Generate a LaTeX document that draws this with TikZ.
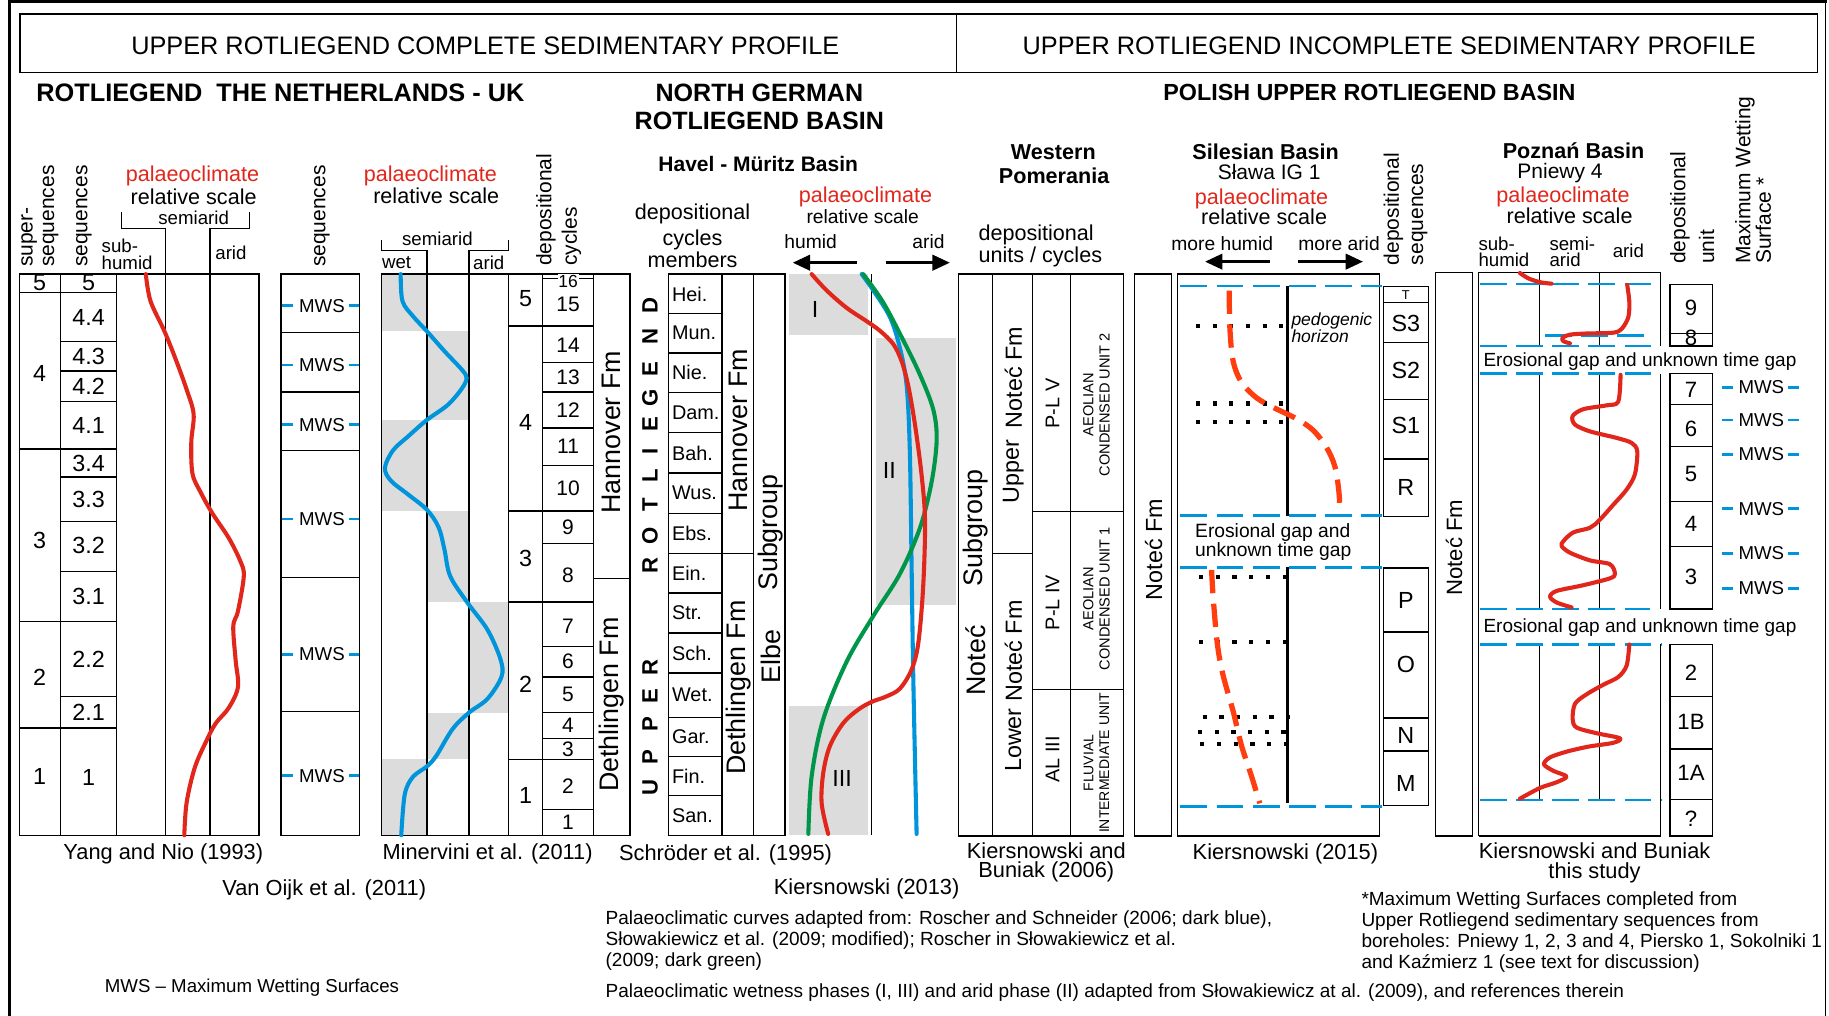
\documentclass[tikz,border=0pt]{standalone}
\usepackage{fontspec}
\setmainfont{Liberation Sans}
\usetikzlibrary{arrows.meta}
\definecolor{cred}{HTML}{E1261C}
\definecolor{cblue}{HTML}{0095DA}
\definecolor{cgreen}{HTML}{00964A}
\definecolor{cgray}{HTML}{DCDCDC}
\definecolor{corange}{HTML}{FF3D0F}
\newcommand{\fsz}[1]{\fontsize{#1}{#1}\selectfont}
\tikzset{
  bx/.style={line width=1.1},
  txt/.style={inner sep=0, font=\fsz{#1}},
  btxt/.style={inner sep=0, font=\fsz{#1}\bfseries},
  rtxt/.style={inner sep=0, font=\fsz{#1}, text=cred},
  bdash/.style={cblue, line width=2.2, dash pattern=on 23 off 8},
  curve/.style={line width=3.5, line cap=round, line join=round},
  dots/.style={line width=3.6, dash pattern=on 3.6 off 10.7},
  bigarrow/.style={line width=3, -{Triangle[length=15,width=13]}},
  tick/.style={cblue, line width=2.2},
}
\begin{document}
\begin{tikzpicture}[x=1pt,y=-1pt]
\useasboundingbox (0,0) rectangle (1568,871);
\fill[white] (0,0) rectangle (1568,871);
% frame
\draw[line width=2.4] (8,871) -- (8,1.2) -- (1566,1.2);
\draw[line width=0.8] (1565,1) -- (1565,871);
% header
\draw[line width=1.4] (17,12) rectangle (1558,62);
\draw[line width=0.8] (820,12) -- (820,62);
\node[txt=21.7] (h1) at (416,39) {UPPER ROTLIEGEND COMPLETE SEDIMENTARY PROFILE};
\node[txt=21.7] (h2) at (1191,39) {UPPER ROTLIEGEND INCOMPLETE SEDIMENTARY PROFILE};
% section titles
\node[btxt=21.7, anchor=west] (s1) at (31,79.7) {ROTLIEGEND\ \ THE NETHERLANDS - UK};
\node[btxt=21.5] (s2a) at (651,79.2) {NORTH GERMAN};
\node[btxt=21.5] (s2b) at (651,103.7) {ROTLIEGEND BASIN};
\node[btxt=18] (s2c) at (650,140.6) {Havel - Müritz Basin};
\node[btxt=20] (s3) at (1174,79.5) {POLISH UPPER ROTLIEGEND BASIN};

% ================= Yang and Nio =================
\node[txt=18, rotate=90, anchor=west] (y1) at (25,229) {super-};
\node[txt=18, rotate=90, anchor=west] (y2) at (43.5,229) {sequences};
\node[txt=18, rotate=90, anchor=west] (y3) at (72,229) {sequences};
\node[txt=16, anchor=west] (y4) at (87,211) {sub-};
\node[txt=16, anchor=west] (y5) at (87,225) {humid};
\node[rtxt=18.5] (y6) at (165,150.7) {palaeoclimate};
\node[txt=18.5] (y7) at (166,168.5) {relative scale};
\node[txt=16] (y8) at (166,187) {semiarid};
\node[txt=16] (y9) at (198,217) {arid};
\draw[bx] (104,182) -- (104,196) -- (142,196) -- (142,235);
\draw[bx] (214,182) -- (214,196) -- (180,196) -- (180,235);
\draw[bx] (17,235) rectangle (222,716);
\foreach \x in {52,100,142,180} \draw[bx] (\x,235) -- (\x,716);
\foreach \y in {250.5,385,533,624} \draw[bx] (17,\y) -- (52,\y);
\foreach \y in {250.5,292.5,318,344,385,409,447,490,533,597,624} \draw[bx] (52,\y) -- (100,\y);
\node[txt=20] (ya1) at (34,242.5) {5};
\node[txt=20] (ya2) at (34,320) {4};
\node[txt=20] (ya3) at (34,463) {3};
\node[txt=20] (ya4) at (34,581) {2};
\node[txt=20] (ya5) at (34,666) {1};
\node[txt=20] (yb1) at (76,242.5) {5};
\node[txt=20] (yb2) at (76,272) {4.4};
\node[txt=20] (yb3) at (76,306) {4.3};
\node[txt=20] (yb4) at (76,331) {4.2};
\node[txt=20] (yb5) at (76,365) {4.1};
\node[txt=20] (yb6) at (76,397.5) {3.4};
\node[txt=20] (yb7) at (76,428) {3.3};
\node[txt=20] (yb8) at (76,468) {3.2};
\node[txt=20] (yb9) at (76,511) {3.1};
\node[txt=20] (yb10) at (76,565.5) {2.2};
\node[txt=20] (yb11) at (76,611) {2.1};
\node[txt=20] (yb12) at (76,666.5) {1};
\draw[cred, curve] plot[smooth, tension=0.55] coordinates {(125,235) (129,258) (141,284) (151,309) (160,334) (166,355) (164,379) (165,406) (172,422) (182,440) (196,461) (206,481) (209,494) (204,524) (200,537) (202,566) (204,589) (196,607) (185,620) (177,635) (167,658) (160,688) (158,716)};

% ================= Van Oijk sequences =================
\node[txt=18, rotate=90, anchor=west] (v1) at (276,229) {sequences};
\draw[bx] (241,235) rectangle (308,716);
\foreach \y in {285,336,386,495,610} \draw[bx] (241,\y) -- (308,\y);
\foreach \y/\n in {262/a,313/b,364/c,445/d,561/e,665/f} {
  \draw[tick] (242,\y) -- (251,\y);
  \draw[tick] (299,\y) -- (308,\y);
  \node[txt=16] (mws\n) at (276,\y) {MWS};
}

% ================= Minervini =================
\fill[cgray] (327,235) rectangle (366,284);
\fill[cgray] (366,284) rectangle (402,360);
\fill[cgray] (327,360) rectangle (366,438);
\fill[cgray] (366,438) rectangle (402,516);
\fill[cgray] (402,516) rectangle (436,611);
\fill[cgray] (366,611) rectangle (402,651);
\fill[cgray] (327,651) rectangle (366,716);
\node[rtxt=18.5] (m1) at (369,150.7) {palaeoclimate};
\node[txt=18.5] (m2) at (374,168) {relative scale};
\node[txt=16] (m3) at (375,204.5) {semiarid};
\node[txt=16] (m4) at (340,225) {wet};
\node[txt=16] (m5) at (419,225.5) {arid};
\draw[bx] (327,206) -- (327,214.5) -- (366,214.5) -- (366,235);
\draw[bx] (436,206) -- (436,214.5) -- (402,214.5) -- (402,235);
\node[txt=18, rotate=90, anchor=west] (m6) at (468,228) {depositional};
\node[txt=18, rotate=90, anchor=west] (m7) at (490,228) {cycles};
\draw[bx] (327,235) rectangle (509,716);
\foreach \x in {366,402,436,465} \draw[bx] (\x,235) -- (\x,716);
\foreach \y in {279.4,438,516,651} \draw[bx] (436,\y) -- (465,\y);
\foreach \y in {279.4,310.6,336,367,399,438,466,516,554,580.5,611,633,651,694} \draw[bx] (465,\y) -- (509,\y);
\draw[bx] (465,239) -- (509,239);
\node[txt=15, fill=white, inner sep=0.6] (c16) at (487,241) {16};
\node[txt=20] (g5) at (450.5,256) {5};
\node[txt=20] (g4) at (450.5,362.5) {4};
\node[txt=20] (g3) at (450.5,478.5) {3};
\node[txt=20] (g2) at (450.5,586.5) {2};
\node[txt=20] (g1) at (450.5,682) {1};
\foreach \y/\n in {260.7/15,296/14,323.7/13,352/12,383/11,418.5/10,452/9,493/8,537/7,567/6,595.5/5,622/4,642.5/3,674/2,705/1}
  \node[txt=18] (cy\n) at (487,\y) {\n};
\draw[cblue, curve] plot[smooth, tension=0.55] coordinates {(343.5,235) (345,258) (354,271) (366,284) (381,301) (396,317) (400,324) (396,333) (384,347) (366,360) (350,374) (337,386) (330,401) (335,412) (350,424) (366,437) (376,452) (381,471) (386,494) (401,517) (418,540) (429,565) (430,580) (418,599) (402,611) (388,625) (374,648) (366,657) (354,666) (347,681) (344,716)};

% formation column
\draw[bx] (509,235) rectangle (540,716);
\draw[bx] (509,496) -- (540,496);
\node[txt=23, rotate=90] (f1) at (524.5,370.5) {Hannover Fm};
\node[txt=23, rotate=90] (f2) at (524.5,604) {Dethlingen Fm};

% ================= Schroder =================
\node[txt=18.5] (n1) at (593.7,183.5) {depositional};
\node[txt=18.5] (n2) at (593.7,205.7) {cycles};
\node[txt=18.5] (n3) at (593.7,222.5) {members};
\foreach \y/\l/\n in {262/D/a,288.5/N/b,316/E/c,341/G/d,364/E/e,387/I/f,408/L/g,433/T/h,459/O/i,485/R/j,572/R/k,597/E/l,621/P/m,649/P/o,675.5/U/p}
  \node[btxt=19, rotate=90] (L\n) at (557.3,\y) {\l};
\draw[bx] (573,235) rectangle (619,716);
\foreach \y in {268.8,302.6,336.7,371,405.6,440,474.5,508.3,542.7,577,615,648.7,682} \draw[bx] (573,\y) -- (619,\y);
\foreach \y/\t/\n in {252/Hei./a,285.7/Mun./b,319.6/Nie./c,353.8/Dam./d,388.3/Bah./e,422.8/Wus./f,457.2/Ebs./g,491.4/Ein./h,525.5/Str./i,559.8/Sch./j,596/Wet./k,631.8/Gar./l,665.3/Fin./m,699/San./o}
  \node[txt=17, anchor=west] (mem\n) at (576,\y) {\t};
\draw[bx] (619,235) rectangle (646,716);
\draw[bx] (619,474.5) -- (646,474.5);
\node[txt=23, rotate=90] (f3) at (633,369) {Hannover Fm};
\node[txt=23, rotate=90] (f4) at (633,589.5) {Dethlingen Fm};
\draw[bx] (646,235) rectangle (673,716);
\node[txt=23, rotate=90] (f5) at (660.7,456.6) {Subgroup};
\node[txt=23, rotate=90] (f6) at (660.7,563) {Elbe};

% ================= Kiersnowski 2013 =================
\node[rtxt=18.5] (k1) at (742,168.6) {palaeoclimate};
\node[txt=16.5] (k2) at (739.6,185.7) {relative scale};
\node[txt=16.5] (k3) at (695,207.2) {humid};
\node[txt=16.5] (k4) at (796,207) {arid};
\coordinate (ka1) at (734.4,225.2); \coordinate (ka2) at (679.5,225.2);
\coordinate (ka3) at (759.5,225.2); \coordinate (ka4) at (814.4,225.2);
\draw[bigarrow] (ka1) -- (ka2);
\draw[bigarrow] (ka3) -- (ka4);
\fill[cgray] (676,235) rectangle (744.4,287);
\fill[cgray] (751,290) rectangle (819.5,519);
\fill[cgray] (676,605) rectangle (744.4,716);
\draw[line width=1.4] (747,235) -- (747,716);
\node[txt=20] (p1) at (698.7,265.5) {I};
\node[txt=20] (p2) at (762.4,403) {II};
\node[txt=20] (p3) at (722,667.3) {III};
\draw[cblue, curve] plot[smooth, tension=0.55] coordinates {(738.7,235) (748.7,249) (763,272) (771.5,298.3) (777.3,331) (780,387) (781.5,485) (783,583.7) (785.8,714.9)};
\draw[cgreen, curve] plot[smooth, tension=0.55] coordinates {(740,235) (757,259) (774.4,291.8) (788.7,321.3) (800,350.8) (803,377) (798.7,413) (788.7,452.5) (771.5,491.9) (748.7,528) (725.8,567.3) (705.8,616.5) (695.8,665.7) (693,714.9)};
\draw[cred, curve] plot[smooth, tension=0.55] coordinates {(695.8,235) (708.7,249) (725.8,263.9) (743,275.4) (754.4,283.6) (765.8,295) (773,309.8) (778.7,331) (784.4,364) (790,406.6) (793,446) (791.5,501.7) (787.3,551) (781.5,574) (771.5,590.3) (760,597) (747.3,601.7) (735.8,608.3) (723,619.8) (711.5,639.5) (705.8,662.4) (704.4,688.7) (710,714.9)};

% ================= Western Pomerania =================
\node[btxt=18.5] (w1) at (903,130.6) {Western};
\node[btxt=18.5] (w2) at (903.7,150.9) {Pomerania};
\node[txt=18.5, anchor=west] (w3) at (838.7,201.5) {depositional};
\node[txt=18.5, anchor=west] (w4) at (838.7,220) {units / cycles};
\draw[bx] (822,235) rectangle (963,716.6);
\foreach \x in {851,885,918} \draw[bx] (\x,235) -- (\x,716.6);
\draw[bx] (851,474.8) -- (885,474.8);
\draw[bx] (885,438.7) -- (963,438.7);
\draw[bx] (885,590.9) -- (963,590.9);
\node[txt=23, rotate=90] (w5) at (836.7,452.5) {Subgroup};
\node[txt=23, rotate=90] (w6) at (836.7,566.3) {Noteć};
\node[txt=20, rotate=90] (w7) at (868.7,404) {Upper};
\node[txt=20, rotate=90] (w8) at (868.7,323.6) {Noteć Fm};
\node[txt=20, rotate=90] (w9) at (868.7,634.5) {Lower};
\node[txt=20, rotate=90] (w10) at (868.7,558) {Noteć Fm};
\node[txt=17, rotate=90] (w11) at (902.4,345.9) {P-L V};
\node[txt=17, rotate=90] (w12) at (902.4,516.5) {P-L IV};
\node[txt=17, rotate=90] (w13) at (902.4,651) {AL III};
\node[txt=12.5, rotate=90, align=center] (w14) at (940,346.9) {AEOLIAN\\[1.5pt]CONDENSED UNIT 2};
\node[txt=12.5, rotate=90, align=center] (w15) at (940,513.2) {AEOLIAN\\[1.5pt]CONDENSED UNIT 1};
\node[txt=12, rotate=90, align=center] (w16) at (940,654.2) {FLUVIAL\\[1.5pt]INTERMEDIATE UNIT};

% ================= Silesian =================
\node[btxt=18.5] (sl1) at (1085,130) {Silesian Basin};
\node[txt=18] (sl2) at (1088,147.2) {Sława IG 1};
\node[rtxt=18.5] (sl3) at (1081.5,170.6) {palaeoclimate};
\node[txt=18.5] (sl4) at (1083.7,185.8) {relative scale};
\node[txt=16.5] (sl5) at (1047.8,208.6) {more humid};
\node[txt=16.5] (sl6) at (1148,208.6) {more arid};
\coordinate (sa1) at (1088.7,224.3); \coordinate (sa2) at (1033,224.3);
\coordinate (sa3) at (1113,224.3); \coordinate (sa4) at (1168.6,224.3);
\draw[bigarrow] (sa1) -- (sa2);
\draw[bigarrow] (sa3) -- (sa4);
\draw[bx] (972.4,235) rectangle (1004.4,716.6);
\node[txt=20, rotate=90] (sl7) at (989,471.2) {Noteć Fm};
\draw[bx] (1009.5,235) rectangle (1182.4,716.6);
\draw[line width=2.6] (1103.8,245.2) -- (1103.8,442);
\draw[line width=2.6] (1103.8,486.3) -- (1103.8,688.7);
\foreach \y/\a in {279.6/1025.2,345.9/1025.2,361.6/1025.2,494.5/1028,550.2/1028,614.9/1031,627.3/1027,638.1/1029}
  \draw[dots] (\a,\y) -- (\a+76,\y);
\draw[corange, line width=4.5, dash pattern=on 20 off 9] plot[smooth, tension=0.55] coordinates {(1053.8,249.1) (1054.4,281.9) (1057.2,309.8) (1064.4,327.9) (1077.2,341) (1091.5,349.2) (1111.5,359) (1125.8,368.9) (1137.2,383.6) (1144.4,400) (1147.8,421.3) (1148.7,439.4)};
\draw[corange, line width=4.5, dash pattern=on 20 off 9] plot[smooth, tension=0.55] coordinates {(1038.7,488.6) (1040,511.5) (1043.5,550.9) (1048.1,577.1) (1057.2,609.9) (1064.4,639.4) (1073,665.7) (1080,688.7)};
\foreach \y in {245.2,442,486.3,691.3} \draw[bdash] (1012,\y) -- (1185,\y);
\node[anchor=west, inner sep=0, align=left, font=\fontsize{15}{14.8}\selectfont\itshape] (sl8) at (1107,281) {pedogenic\\horizon};
\node[anchor=west, inner sep=0, align=left, font=\fontsize{16.5}{14.6}\selectfont] (sl10) at (1024.4,464.7) {Erosional gap and\\unknown time gap};
% sequences column
\node[txt=18, rotate=90, anchor=west] (sq1) at (1194.5,227.5) {depositional};
\node[txt=18, rotate=90, anchor=west] (sq2) at (1217,227.5) {sequences};
\draw[bx] (1186,245.9) rectangle (1224.5,442.7);
\foreach \y in {259.6,293.4,342.6,393.5} \draw[bx] (1186,\y) -- (1224.5,\y);
\draw[bx] (1186,487) rectangle (1224.5,690.3);
\foreach \y in {541.7,615.5,643.7} \draw[bx] (1186,\y) -- (1224.5,\y);
\node[txt=11] (q0) at (1205.2,253) {T};
\foreach \y/\t/\n in {277/S3/a,318/S2/b,364.6/S1/c,418/R/d,515/P/e,569.5/O/f,630.6/N/g,671.6/M/h}
  \node[txt=20] (sq\n) at (1205.2,\y) {\t};

% ================= Poznan =================
\node[btxt=18.5] (pz1) at (1349,129.2) {Poznań Basin};
\node[txt=18] (pz2) at (1337.4,148.6) {Pniewy 4};
\node[rtxt=18.5] (pz3) at (1340,169.2) {palaeoclimate};
\node[txt=18.5] (pz4) at (1345.6,185.2) {relative scale};
\node[txt=16, anchor=west] (pz5) at (1267.3,209.2) {sub-};
\node[txt=16, anchor=west] (pz6) at (1267.3,222.9) {humid};
\node[txt=16, anchor=west] (pz7) at (1328.2,209.2) {semi-};
\node[txt=16, anchor=west] (pz8) at (1328.2,222.9) {arid};
\node[txt=16] (pz9) at (1396,214.9) {arid};
\node[txt=18, rotate=90, anchor=west] (pz10) at (1440.2,226.5) {depositional};
\node[txt=18, rotate=90, anchor=west] (pz11) at (1463,226.5) {unit};
\node[txt=18, rotate=90, anchor=west] (pz12) at (1496,226.5) {Maximum Wetting};
\node[txt=18, rotate=90, anchor=west] (pz13) at (1511.7,226.5) {Surface *};
\draw[bx] (1230.8,233.7) rectangle (1262.2,716.6);
\node[txt=19, rotate=90] (pz14) at (1246.5,469.6) {Noteć Fm};
\draw[bx] (1267.6,716.6) -- (1267.6,233.7) -- (1423.6,233.7) -- (1423.6,296.7);
\draw[bx] (1423.6,320.3) -- (1423.6,522);
\draw[bx] (1423.6,552.5) -- (1423.6,716.6) -- (1267.6,716.6);
\foreach \x in {1319.6,1371} {
  \draw[bx] (\x,233.7) -- (\x,296.7);
  \draw[bx] (\x,320.3) -- (\x,522);
  \draw[bx] (\x,552.5) -- (\x,686);
}
\draw[bdash] (1268.8,243.6) -- (1423.6,243.6);
\draw[bdash] (1324.5,287.5) -- (1410.2,287.5);
\draw[bdash] (1268.8,296.7) -- (1423.6,296.7);
\draw[bdash] (1268.8,320.3) -- (1423.6,320.3);
\draw[bdash] (1268.8,522) -- (1414.5,522);
\draw[bdash] (1268.8,552.5) -- (1424.5,552.5);
\draw[bdash] (1268.8,686) -- (1424.5,686);
\node[txt=16.3, anchor=west] (pz15) at (1271.6,309.8) {Erosional gap and unknown time gap};
\node[txt=16.3, anchor=west] (pz16) at (1271.6,537.8) {Erosional gap and unknown time gap};
\draw[cred, curve] plot[smooth, tension=0.55] coordinates {(1303,234) (1310.2,238.6) (1320.2,241.9) (1330.2,243.2)};
\draw[cred, curve] plot[smooth, tension=0.5] coordinates {(1395,244.2) (1396.8,259) (1395.9,272.1) (1390.2,282) (1383,285.2) (1360.2,285.9) (1345.9,286.9) (1339.6,289.5) (1340.2,292.4) (1345.9,294.4)};
\draw[cred, curve] plot[smooth, tension=0.5] coordinates {(1389.3,321.3) (1387.3,344.3) (1377.3,347.5) (1357.3,350.8) (1348.2,356.7) (1350.2,364) (1363,369.8) (1385.9,375.4) (1398.8,379.7) (1403.6,386.9) (1401.6,406.6) (1394.5,419.7) (1383,432.8) (1371.1,446) (1363,452.5) (1348.8,456.4) (1340.2,464) (1338.8,468.2) (1345.9,473.8) (1363,480.4) (1380.2,483.7) (1384.5,491.9) (1380.2,495.8) (1357.3,501.7) (1334.5,506.6) (1328.8,511.5) (1334.5,516.5) (1347.3,520.7)};
\draw[cred, curve] plot[smooth, tension=0.5] coordinates {(1396.8,552.5) (1394.5,570.6) (1387.3,580.4) (1374.5,587) (1360.2,595.2) (1350.2,603.4) (1348.2,616.5) (1351.6,623.7) (1368.8,628.6) (1388.8,632.9) (1383,636.8) (1361.6,640.1) (1343,644.4) (1328.8,649.3) (1323.6,655.2) (1331.6,660.8) (1343,665.7) (1334.5,670.6) (1320.2,675.5) (1303,684.7)};
% depositional unit column
\draw[bx] (1431.6,243.6) rectangle (1467.9,296.7);
\draw[bx] (1431.6,286.2) -- (1467.9,286.2);
\draw[bx] (1431.6,320.3) rectangle (1467.9,522);
\foreach \y in {346.9,383,430.2,468.2} \draw[bx] (1431.6,\y) -- (1467.9,\y);
\draw[bx] (1431.6,552.5) rectangle (1467.9,716.6);
\foreach \y in {596.8,642,685.4} \draw[bx] (1431.6,\y) -- (1467.9,\y);
\foreach \y/\t/\n in {264/9/a,290/8/b,334.4/7/c,368/6/d,406.6/5/e,449.2/4/f,494.5/3/g,576.5/2/h,618.8/1B/i,663/1A/j,701.8/?/k}
  \node[txt=19] (du\n) at (1449.7,\y) {\t};
\foreach \y/\n in {332.1/a,360/b,389.5/c,436.1/d,474.5/e,504.3/f} {
  \draw[tick] (1476,\y) -- (1486,\y);
  \draw[tick] (1533,\y) -- (1542,\y);
  \node[txt=16] (pm\n) at (1510,\y) {MWS};
}

% ================= captions =================
\node[txt=18.7] (cap1) at (140,732) {Yang and Nio (1993)};
\node[txt=18.7] (cap2) at (278,762.5) {Van Oijk et al. (2011)};
\node[txt=18.7] (cap3) at (418,732) {Minervini et al. (2011)};
\node[txt=18.7] (cap4) at (622,733) {Schröder et al. (1995)};
\node[txt=18.7] (cap5) at (743,762) {Kiersnowski (2013)};
\node[inner sep=0, align=center, font=\fontsize{18.7}{16.5}\selectfont] (cap6) at (897,739.5) {Kiersnowski and\\Buniak (2006)};
\node[txt=18.7] (cap8) at (1102,732) {Kiersnowski (2015)};
\node[inner sep=0, align=center, font=\fontsize{18.7}{17}\selectfont] (cap9) at (1367,739.5) {Kiersnowski and Buniak\\this study};
\node[txt=16] (cap11) at (216,847) {MWS – Maximum Wetting Surfaces};
% footnotes
\node[txt=16.3, anchor=west] (fn1) at (519,788) {Palaeoclimatic curves adapted from: Roscher and Schneider (2006; dark blue),};
\node[txt=16.3, anchor=west] (fn2) at (519,806) {Słowakiewicz et al. (2009; modified); Roscher in Słowakiewicz et al.};
\node[txt=16.3, anchor=west] (fn3) at (519,824) {(2009; dark green)};
\node[txt=16.3, anchor=west] (fn4) at (519,851) {Palaeoclimatic wetness phases (I, III) and arid phase (II) adapted from Słowakiewicz at al. (2009), and references therein};
\node[txt=16.3, anchor=west] (fn5) at (1167,772) {*Maximum Wetting Surfaces completed from};
\node[txt=16.3, anchor=west] (fn6) at (1167,790) {Upper Rotliegend sedimentary sequences from};
\node[txt=16.3, anchor=west] (fn7) at (1167,808) {boreholes: Pniewy 1, 2, 3 and 4, Piersko 1, Sokolniki 1};
\node[txt=16.3, anchor=west] (fn8) at (1167,826) {and Kaźmierz 1 (see text for discussion)};
\end{tikzpicture}
\end{document}
